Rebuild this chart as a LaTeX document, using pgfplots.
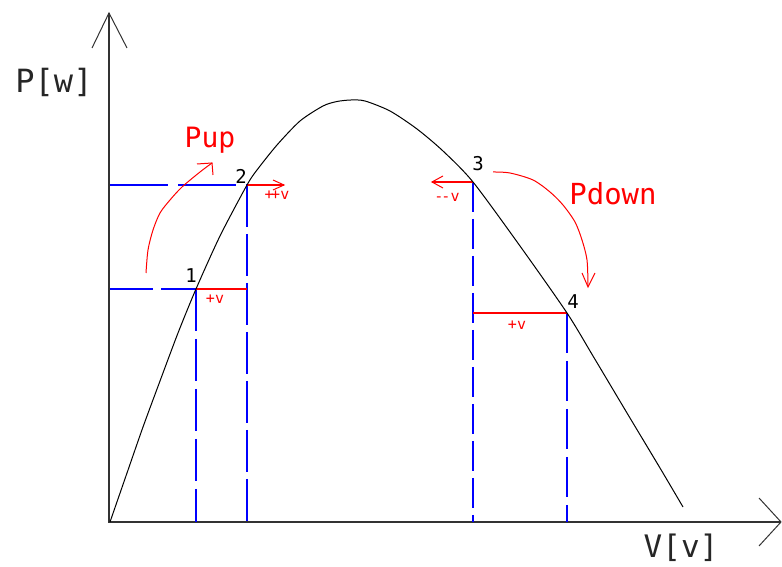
\documentclass[border=0pt]{standalone}
\usepackage{fontspec}
\setmainfont{DejaVu Sans Mono}
\usepackage{pgfplots}
\pgfplotsset{compat=1.18}
\definecolor{ared}{RGB}{255,0,0}
\definecolor{ablue}{RGB}{0,0,255}
\definecolor{axgray}{RGB}{50,50,50}
\begin{document}
\begin{tikzpicture}
\begin{axis}[
  width=782pt,height=567pt,scale only axis,
  xmin=0,xmax=782,ymin=-567,ymax=0,
  axis lines=none,clip=false,
]
\coordinate (bl) at (axis cs:0,-567);
\coordinate (tr) at (axis cs:782,0);
% axes
\addplot[axgray,line width=1.8pt] coordinates {(109,-13) (109,-522) (781,-522)};
\addplot[axgray,line width=1pt] coordinates {(92,-48) (109,-13) (127,-48)};
\addplot[axgray,line width=1pt] coordinates {(759,-498) (781,-522) (759,-546)};
% blue dashed guides
\addplot[ablue,line width=1.3pt,dash pattern=on 58pt off 10pt] coordinates {(110,-185) (247,-185)};
\addplot[ablue,line width=1.3pt,dash pattern=on 43pt off 8pt] coordinates {(110,-289) (196,-289)};
\addplot[ablue,line width=1.3pt,dash pattern=on 42pt off 8pt] coordinates {(196,-289) (196,-522)};
\addplot[ablue,line width=1.3pt,dash pattern=on 42pt off 7pt] coordinates {(247,-185) (247,-522)};
\addplot[ablue,line width=1.3pt,dash pattern=on 30pt off 7pt] coordinates {(473,-182) (473,-522)};
\addplot[ablue,line width=1.3pt,dash pattern=on 40pt off 8pt] coordinates {(567,-313) (567,-522)};
% red segments
\addplot[ared,line width=1.2pt] coordinates {(196,-289) (247,-289)};
\addplot[ared,line width=1.2pt] coordinates {(473,-313) (567,-313)};
\addplot[ared,line width=1.2pt] coordinates {(247,-185) (284,-185)};
\addplot[ared,line width=1pt] coordinates {(273,-180) (284,-185) (273,-190)};
\addplot[ared,line width=1.2pt] coordinates {(473,-182) (432,-182)};
\addplot[ared,line width=1pt] coordinates {(443,-176) (432,-182) (443,-188)};
% Pup arrow
\addplot[ared,line width=1pt,smooth,tension=0.5] coordinates {(146,-273) (148,-250) (153,-230) (160,-213) (170,-200) (182,-187) (200,-172) (212,-163)};
\addplot[ared,line width=1pt] coordinates {(197,-164) (212,-163) (213,-175)};
% Pdown arrow
\addplot[ared,line width=1pt,smooth,tension=0.5] coordinates {(493,-172) (510,-173) (533,-180) (550,-192) (563,-205) (575,-222) (582,-240) (587,-260) (588,-286)};
\addplot[ared,line width=1pt] coordinates {(582,-273) (588,-287) (595,-273)};
% P-V curve
\addplot[black,line width=1pt,smooth,tension=0.45] coordinates {
 (110,-522) (127,-473) (143,-427) (160,-381) (178,-333) (196,-289)
 (220,-236) (247,-185) (257,-170) (277,-145) (300,-121) (323,-106)
 (337,-101.5) (351,-100) (365,-101) (390,-111) (417,-129) (443,-151)
 (473,-182) (520,-246) (567,-313) (593,-356) (627,-413) (660,-468) (683,-507)};
% labels
\node[font=\fontsize{32}{32}\selectfont,text=black!85] at (axis cs:54,-82) {P[w]};
\node[font=\fontsize{31}{31}\selectfont,text=black!85,anchor=base,inner sep=0pt] at (axis cs:681,-558) {V[v]};
\node[font=\fontsize{28}{28}\selectfont,text=ared] at (axis cs:210,-140) {Pup};
\node[font=\fontsize{29}{29}\selectfont,text=ared] at (axis cs:613,-194) {Pdown};
\node[font=\fontsize{19}{19}\selectfont] at (axis cs:191,-276) {1};
\node[font=\fontsize{19}{19}\selectfont] at (axis cs:241,-176) {2};
\node[font=\fontsize{19}{19}\selectfont] at (axis cs:478,-164) {3};
\node[font=\fontsize{19}{19}\selectfont] at (axis cs:573,-302) {4};
\node[font=\fontsize{15}{15}\selectfont,text=ared] at (axis cs:215,-299) {+v};
\node[font=\fontsize{15}{15}\selectfont,text=ared] at (axis cs:517,-325) {+v};
\node[font=\fontsize{15}{15}\selectfont,text=ared,inner sep=0pt] at (axis cs:277,-195) {+\kern-2.5pt+v};
\node[font=\fontsize{15}{15}\selectfont,text=ared,inner sep=0pt] at (axis cs:447,-197) {-\kern-2pt-v};
\end{axis}
\pgfresetboundingbox
\path (bl) rectangle (tr);
\end{tikzpicture}
\end{document}
